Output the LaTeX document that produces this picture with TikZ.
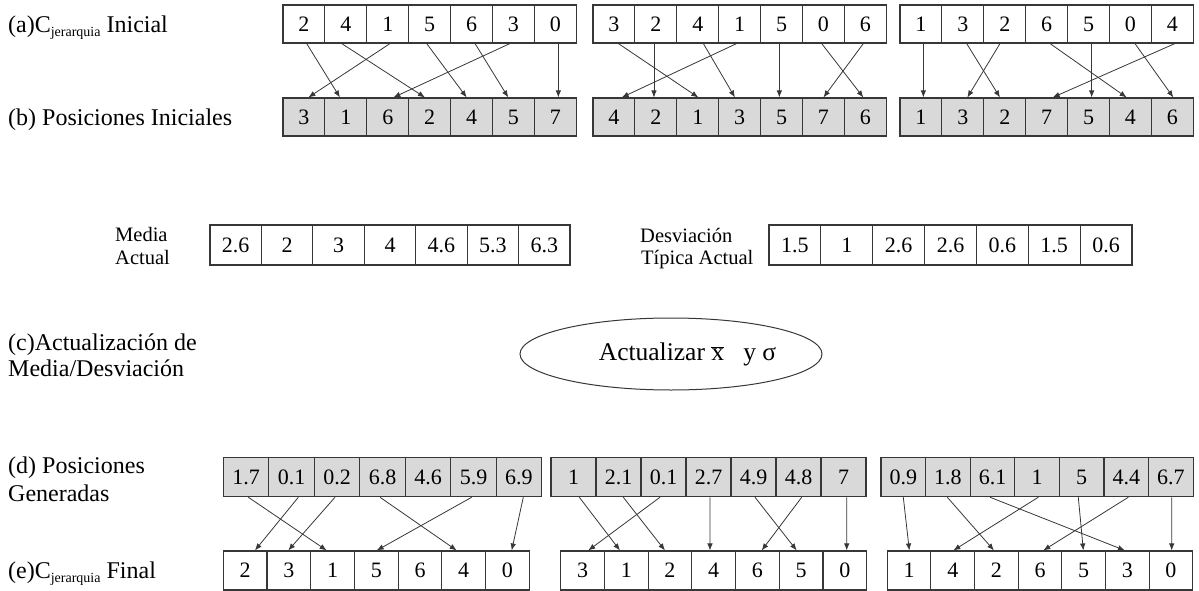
\documentclass[tikz,border=0pt]{standalone}
\usepackage{fontspec}
\setmainfont{Liberation Serif}
\usetikzlibrary{arrows.meta,shapes.geometric}
\definecolor{cellgray}{RGB}{217,217,217}
\definecolor{linegray}{RGB}{55,55,55}
\tikzset{
  cellbox/.style={draw=linegray,line width=1.1pt,inner sep=0pt,font=\fontsize{22}{24}\selectfont},
  arw/.style={draw=linegray,line width=0.8pt,-{Latex[length=7pt,width=5.5pt]}},
  lbl/.style={anchor=base west,inner sep=0pt,font=\fontsize{24}{26}\selectfont},
  slbl/.style={anchor=base west,inner sep=0pt,font=\fontsize{20.5}{22}\selectfont},
}
\newcommand\cellrow[7]{%
  \foreach \v [count=\i from 0] in {#7} {
    \node[cellbox,#6,minimum width=#4pt,minimum height=#5pt] (#1-\i) at ({#2+#4*(\i+0.5)},{#3+#5/2}) {\v};
  }}
\newcommand\jer{\raisebox{-4pt}{\fontsize{14}{14}\selectfont jerarquia}}
\begin{document}
\begin{tikzpicture}[x=1pt,y=-1pt]
\useasboundingbox (0,0) rectangle (1199,591);
% labels
\node[lbl] (la) at (8,33) {(a)C\jer{} Inicial};
\node[lbl] (lb) at (8,126) {(b) Posiciones Iniciales};
\node[lbl] (lc1) at (8,350) {(c)Actualización de};
\node[lbl] (lc2) at (8,376) {Media/Desviación};
\node[lbl] (ld1) at (8,473) {(d) Posiciones};
\node[lbl] (ld2) at (8,501) {Generadas};
\node[lbl] (le) at (8,578) {(e)C\jer{} Final};
\node[slbl] (lm1) at (115,241) {Media};
\node[slbl] (lm2) at (115,264) {Actual};
\node[slbl] (ls1) at (640,242) {Desviación};
\node[slbl] (ls2) at (641,264) {Típica Actual};
% rows
\cellrow{A1}{283}{5}{41.9}{38}{fill=white}{2,4,1,5,6,3,0}
\cellrow{A2}{593}{5}{41.9}{38}{fill=white}{3,2,4,1,5,0,6}
\cellrow{A3}{900}{5}{41.9}{38}{fill=white}{1,3,2,6,5,0,4}
\cellrow{B1}{283}{98}{41.9}{38}{fill=cellgray}{3,1,6,2,4,5,7}
\cellrow{B2}{593}{98}{41.9}{38}{fill=cellgray}{4,2,1,3,5,7,6}
\cellrow{B3}{900}{98}{41.9}{38}{fill=cellgray}{1,3,2,7,5,4,6}
\cellrow{M}{210}{225}{51.43}{40}{fill=white}{2.6,2,3,4,4.6,5.3,6.3}
\cellrow{S}{769}{225}{51.86}{40}{fill=white}{1.5,1,2.6,2.6,0.6,1.5,0.6}
\cellrow{D1}{223.3}{457.7}{45.49}{39}{fill=cellgray}{1.7,0.1,0.2,6.8,4.6,5.9,6.9}
\cellrow{D2}{551}{457.7}{45}{39}{fill=cellgray}{1,2.1,0.1,2.7,4.9,4.8,7}
\cellrow{D3}{881}{457.7}{44.6}{39}{fill=cellgray}{0.9,1.8,6.1,1,5,4.4,6.7}
\cellrow{E1}{223.3}{551}{43.71}{39}{fill=white}{2,3,1,5,6,4,0}
\cellrow{E2}{560.7}{551}{43.71}{39}{fill=white}{3,1,2,4,6,5,0}
\cellrow{E3}{887.3}{551}{43.63}{39}{fill=white}{1,4,2,6,5,3,0}
% ellipse
\node[draw=linegray,line width=1pt,ellipse,minimum width=302pt,minimum height=72pt,inner sep=0pt,
      font=\fontsize{25.5}{27}\selectfont] (upd) at (671,354) {\hspace*{33pt}Actualizar $\overline{\hbox{x}}$\ \ \ y σ};
% arrows (a) -> (b)
\foreach \s/\so/\t/\to in {0/2.7/1/-5.9, 1/-4.2/3/-4.7, 2/2.3/0/4.4, 3/-3/4/-4.9, 4/3.5/5/-5.2, 5/-3.5/2/5.6, 6/3/6/3}
  \draw[arw] ([xshift=\so pt]A1-\s.south) -- ([xshift=\to pt]B1-\t.north);
\foreach \s/\so/\t/\to in {0/4.4/2/0.6, 1/-1.9/1/-1.9, 2/5.6/3/-4.7, 3/-3/0/7.7, 4/-2.2/4/-2.2, 5/-1.8/6/-2, 6/-2/5/0}
  \draw[arw] ([xshift=\so pt]A2-\s.south) -- ([xshift=\to pt]B2-\t.north);
\foreach \s/\so/\t/\to in {0/2.4/0/2.4, 1/3.8/2/-4.75, 2/-4.75/1/4.5, 3/3.35/5/-3.8, 4/3.1/4/3.1, 5/4.5/6/1, 6/2.6/3/6}
  \draw[arw] ([xshift=\so pt]A3-\s.south) -- ([xshift=\to pt]B3-\t.north);
% arrows (d) -> (e)
\foreach \s/\so/\t/\to in {0/2.3/2/-5.9, 1/6.8/0/9.8, 2/-2/1/-0.6, 3/-2.5/5/-7, 5/-1.8/3/0.4, 6/4.3/6/4.3}
  \draw[arw] ([xshift=\so pt]D1-\s.south) -- ([xshift=\to pt]E1-\t.north);
\foreach \s/\so/\t/\to in {0/5.8/1/-6.3, 1/4.8/2/-5, 2/-3.5/0/5.7, 3/1.5/3/-3.7, 4/1.5/5/-4.4, 5/3.2/4/4.3, 6/3.2/6/1.9}
  \draw[arw] ([xshift=\so pt]D2-\s.south) -- ([xshift=\to pt]E2-\t.north);
\foreach \s/\so/\t/\to in {0/0/0/0.2, 1/-0.6/2/-2.4, 2/-2.5/5/-2.3, 3/1.2/1/0.6, 4/-3.4/4/-0.3, 5/2/3/3.3, 6/0.8/6/0.8}
  \draw[arw] ([xshift=\so pt]D3-\s.south) -- ([xshift=\to pt]E3-\t.north);
\end{tikzpicture}
\end{document}
